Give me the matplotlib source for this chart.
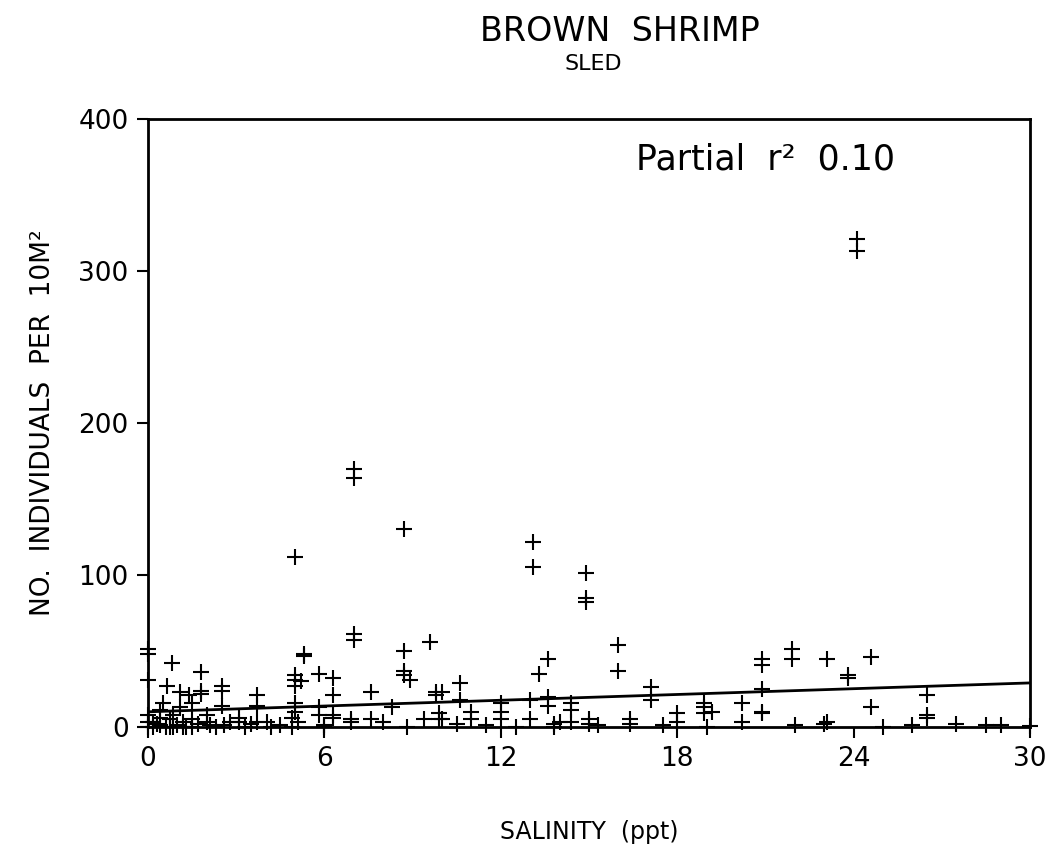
import numpy as np
import matplotlib
matplotlib.use("Agg")
import matplotlib.pyplot as plt

# salinity (ppt) and catch per 10 m2
salinity = [
    24.1, 24.1, 7.0, 7.0, 5.0, 8.7, 13.1, 13.1, 14.9, 14.9, 14.9,
    16.0, 13.6, 7.0, 7.0, 8.7, 9.6, 5.3,
    0.0, 0.0, 0.0, 0.8, 1.8, 5.3, 5.8, 6.3, 5.0, 5.0, 5.2, 7.6,
    8.7, 8.7, 8.9, 9.8, 9.8,
    0.65, 1.1, 1.4, 1.8, 1.8, 2.5, 2.5, 2.5, 3.7, 3.7, 5.0, 1.5, 1.1, 0.5,
    13.3, 16.0, 10.6, 10.6, 17.1, 17.1, 20.9, 20.9, 10.0, 10.0,
    11.0, 11.0, 12.0, 12.0, 12.0, 13.0, 13.0, 13.6, 13.6, 13.8, 13.8,
    14.4, 14.4, 14.4, 15.0, 15.0, 15.3, 16.4, 16.4, 18.0, 18.0,
    18.9, 18.9, 18.9, 20.2, 20.2, 19.2,
    21.9, 21.9, 23.1, 24.6, 23.8, 23.8, 20.9, 20.9, 20.9, 24.6,
    26.5, 26.5, 26.5, 26.0, 27.5, 29.0, 23.0, 23.1, 30.0,
    6.3, 5.0, 5.0, 5.8, 5.8, 6.3, 6.3, 6.9, 6.9, 7.6, 8.0, 8.3, 8.8,
    9.4, 9.9, 9.9, 5.1, 6.0, 6.0,
    3.7, 3.1, 3.1, 4.05, 2.1, 2.8, 0.4, 0.4, 0.4, 0.75, 0.75,
    0.17, 0.17, 0.85, 0.85, 1.2, 1.2, 1.5, 1.5, 2.0, 2.0, 4.9, 4.9,
    0.0, 0.0, 0.0, 0.3, 0.6, 1.0, 1.3, 1.7, 2.3, 2.6, 3.3, 3.5, 4.2, 4.5,
    10.5, 11.5, 12.5, 14.0, 17.5, 19.0, 22.0, 25.0, 28.5,
]
catch = [
    321, 313, 170, 164, 112, 130, 122, 105, 101, 85, 82,
    54, 45, 61, 57, 50, 56, 47,
    51, 48, 31, 42, 36, 48, 35, 32, 34, 31, 30, 23,
    37, 34, 31, 23, 21,
    27, 23, 21, 24, 22, 27, 24, 14, 21, 14, 27, 16, 13, 16,
    35, 37, 29, 18, 26, 18, 45, 41, 23, 5,
    10, 5, 16, 10, 5, 18, 5, 20, 14, 0, 2,
    16, 11, 3, 5, 2, 1, 5, 2, 9, 3,
    16, 13, 9, 16, 3, 10,
    51, 45, 45, 46, 34, 32, 25, 10, 9, 13,
    21, 8, 6, 1, 2, 1, 2, 3, 0.5,
    21, 16, 10, 13, 8, 8, 6, 5, 3, 5, 3, 13, 0,
    5, 5, 9, 3, 1, 0,
    3, 3, 6, 3, 1, 3, 1, 6, 11, 5, 0,
    0, 3, 0, 8, 3, 0, 5, 0, 3, 8, 6, 0,
    0, 3, 8, 2, 0, 1, 0, 2, 0, 1, 0, 2, 0, 1,
    2, 1, 0, 3, 1, 0, 1, 0, 1,
]

# fitted line end points
fit_x = [0, 30]
fit_y = [10, 29]

x_ticks = [0, 6, 12, 18, 24, 30]
y_ticks = [0, 100, 200, 300, 400]

fig = plt.figure(figsize=(10.55, 8.5), dpi=100)
ax = fig.add_axes([0.1403, 0.1447, 0.836, 0.7153])

ax.plot(salinity, catch, linestyle="none", marker="+", markersize=12,
        markeredgewidth=1.5, color="black", clip_on=False)
ax.plot(fit_x, fit_y, color="black", linewidth=2)

ax.set_xlim(0, 30)
ax.set_ylim(0, 400)
ax.set_xticks(x_ticks)
ax.set_yticks(y_ticks)
ax.tick_params(direction="out", length=8, width=1.5, labelsize=19, pad=6)
for s in ax.spines.values():
    s.set_linewidth(2)

ax.set_xlabel("SALINITY  (ppt)", fontsize=17, labelpad=34)
ax.set_ylabel("NO.  INDIVIDUALS  PER  10M²", fontsize=19, labelpad=16)

ax.text(0.553, 0.933, "Partial  r²  0.10", transform=ax.transAxes,
        fontsize=25, va="center", ha="left")

fig.text(0.588, 0.963, "BROWN  SHRIMP", fontsize=24, ha="center", va="center")
fig.text(0.562, 0.925, "SLED", fontsize=16, ha="center", va="center")

fig.savefig("out.png", dpi=100)
